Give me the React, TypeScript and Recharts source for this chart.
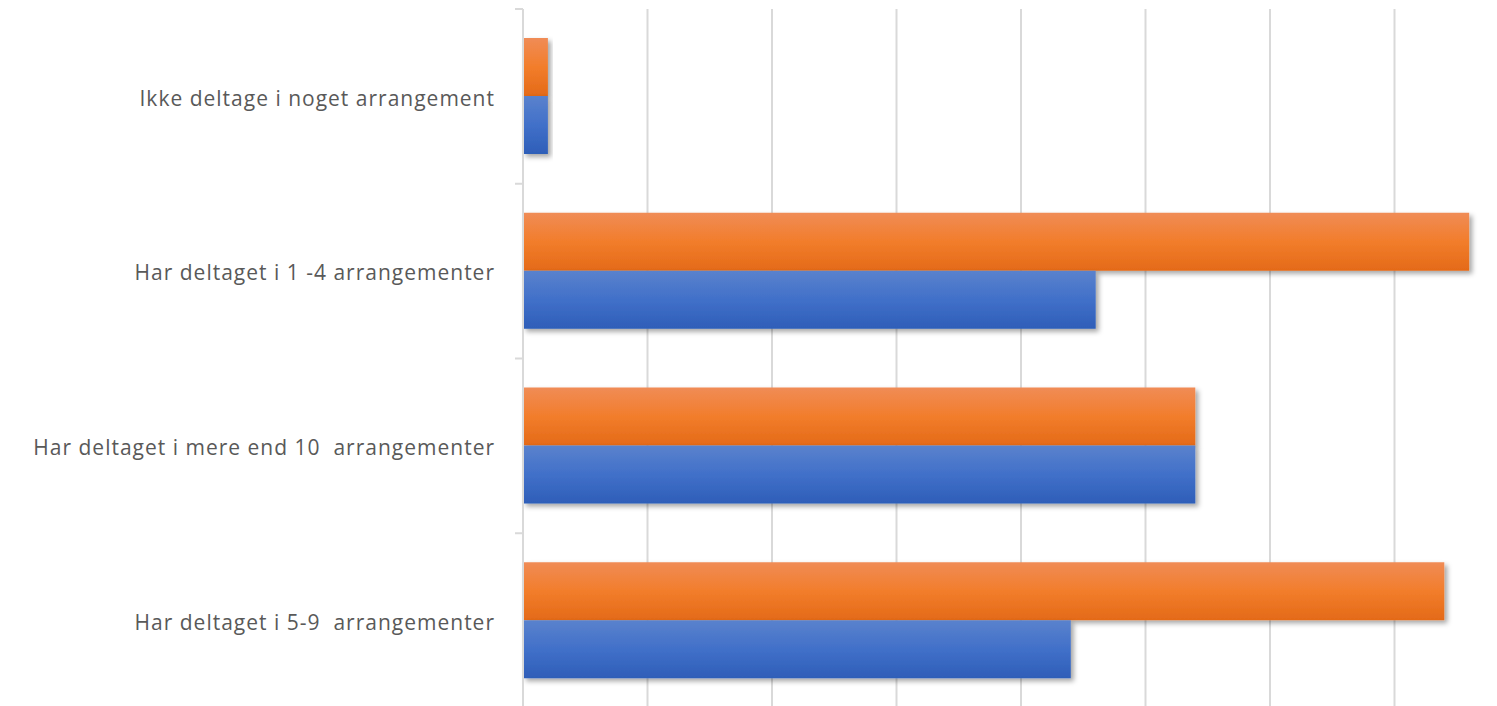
import { BarChart, Bar, XAxis, YAxis, CartesianGrid } from "recharts";

const categories = [
  "Ikke deltage i noget arrangement",
  "Har deltaget i 1 -4 arrangementer",
  "Har deltaget i mere end 10  arrangementer",
  "Har deltaget i 5-9  arrangementer",
];
const orangeValues = [1, 38, 27, 37];
const blueValues = [1, 23, 27, 22];
const xTicks = [0, 5, 10, 15, 20, 25, 30, 35, 40];

const data = categories.map((name, i) => ({
  name,
  orange: orangeValues[i],
  blue: blueValues[i],
}));

// category label plus the small tick marks at the band edges (Excel style)
function CategoryTick(props: any) {
  const { x, y, payload, index } = props;
  const half = 174.75 / 2;
  return (
    <g>
      <line x1={x + 17} x2={x + 25} y1={y - half} y2={y - half} stroke="#d9d9d9" strokeWidth={2} />
      {index === categories.length - 1 && (
        <line x1={x + 17} x2={x + 25} y1={y + half} y2={y + half} stroke="#d9d9d9" strokeWidth={2} />
      )}
      <text
        x={x - 3}
        y={y + 2}
        dy="0.35em"
        textAnchor="end"
        fill="#595959"
        fontSize={21}
        letterSpacing={1}
        fontFamily="'Open Sans', sans-serif"
        style={{ whiteSpace: "pre" }}
      >
        {payload.value}
      </text>
    </g>
  );
}

export default function App() {
  return (
    <div style={{ position: "fixed", left: 0, top: 0, width: 1497, height: 706, overflow: "hidden", background: "#fff" }}>
      <BarChart
        width={1520}
        height={708}
        data={data}
        layout="vertical"
        margin={{ top: 9, right: 1, left: 0, bottom: 0 }}
        barCategoryGap={29}
        barGap={0}
      >
        <defs>
          <linearGradient id="gradOrange" x1="0" y1="0" x2="0" y2="1">
            <stop offset="0%" stopColor="#f08c56" />
            <stop offset="50%" stopColor="#f27d2b" />
            <stop offset="100%" stopColor="#e46a18" />
          </linearGradient>
          <linearGradient id="gradBlue" x1="0" y1="0" x2="0" y2="1">
            <stop offset="0%" stopColor="#5a82cd" />
            <stop offset="50%" stopColor="#4170c9" />
            <stop offset="100%" stopColor="#2e5eb8" />
          </linearGradient>
          <filter id="barShadow" x="-10%" y="-20%" width="130%" height="150%">
            <feDropShadow dx={3} dy={3} stdDeviation={2.5} floodColor="#000" floodOpacity={0.35} />
          </filter>
        </defs>
        <CartesianGrid horizontal={false} stroke="#d9d9d9" strokeWidth={2} />
        <XAxis type="number" domain={[0, 40]} ticks={xTicks} hide />
        <YAxis
          type="category"
          dataKey="name"
          width={523}
          axisLine={{ stroke: "#d9d9d9", strokeWidth: 2 }}
          tickLine={false}
          tickMargin={0}
          tickSize={25}
          tick={<CategoryTick />}
          interval={0}
        />
        <Bar dataKey="orange" fill="url(#gradOrange)" filter="url(#barShadow)" isAnimationActive={false} />
        <Bar dataKey="blue" fill="url(#gradBlue)" filter="url(#barShadow)" isAnimationActive={false} />
      </BarChart>
    </div>
  );
}
